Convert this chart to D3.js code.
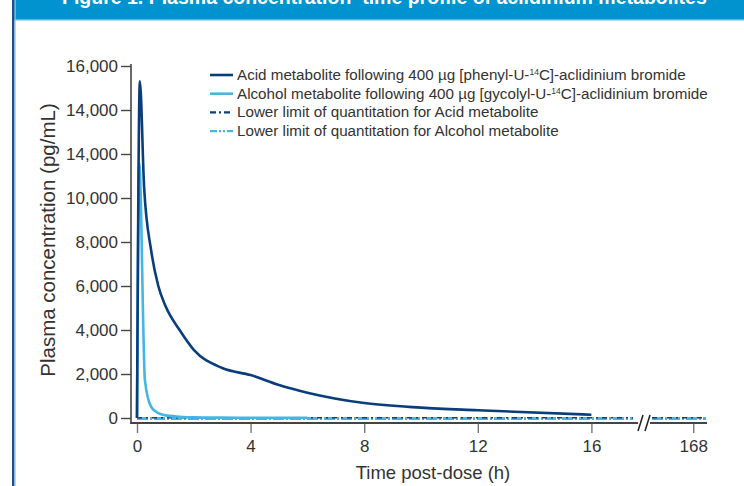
<!DOCTYPE html>
<html>
<head>
<meta charset="utf-8">
<script src="https://cdn.jsdelivr.net/npm/d3@7"></script>
<style>
  body { margin: 0; background: #fff; }
  svg { display: block; font-family: "Liberation Sans", Arial, sans-serif; }
</style>
</head>
<body>
<svg width="744" height="486"></svg>
<script>
// hours post-dose and plasma concentration (pg/mL)
const acidTime = [0, 0.1, 0.25, 0.5, 0.75, 1, 1.5, 2, 3, 4, 5, 6, 8, 10, 12, 16];
const acidConc = [0, 15300, 10500, 7600, 6000, 5100, 4000, 3100, 2270, 1950, 1500, 1150, 680, 470, 350, 150];
const alcTime = [0, 0.08, 0.28, 0.5, 0.75, 1, 1.5, 2, 3, 4, 6];
const alcConc = [0, 11600, 1700, 500, 220, 120, 60, 30, 15, 10, 5];
const lloqAcid = 10;
const lloqAlcohol = 5;
const yTicks = [0, 2000, 4000, 6000, 8000, 10000, 12000, 14000, 16000];
const yTickLabels = ['0', '2,000', '4,000', '6,000', '8,000', '10,000', '14,000', '14,000', '16,000'];
const xTicks = [0, 4, 8, 12, 16, 168];
const legendLabels = [
  ['Acid metabolite following 400 µg [phenyl-U-', '14', 'C]-aclidinium bromide'],
  ['Alcohol metabolite following 400 µg [gycolyl-U-', '14', 'C]-aclidinium bromide'],
  ['Lower limit of quantitation for Acid metabolite'],
  ['Lower limit of quantitation for Alcohol metabolite']
];

const dark = '#0a3d7c';
const light = '#45b5e5';
const axisColor = '#444';

const svg = d3.select('svg');

// header banner + left border
svg.append('rect').attr('x', 13).attr('y', 0).attr('width', 731).attr('height', 19).attr('fill', '#0093d0');
svg.append('rect').attr('x', 13).attr('y', 19).attr('width', 731).attr('height', 1.5).attr('fill', '#5ab8e4');
svg.append('text').attr('x', 62).attr('y', 4)
  .attr('fill', '#fff').attr('font-weight', 'bold').attr('font-size', 19.5)
  .text('Figure 1. Plasma concentration–time profile of aclidinium metabolites');
svg.append('rect').attr('x', 12).attr('y', 0).attr('width', 2.5).attr('height', 486).attr('fill', '#1f4f8a');
svg.append('rect').attr('x', 14.5).attr('y', 0).attr('width', 1.2).attr('height', 486).attr('fill', '#9cc3e6');

// scales (x has a break between 17.5 h and 166.5 h)
const x = d3.scaleLinear()
  .domain([0, 17.5, 166.5, 168.5])
  .range([137, 634, 652, 707]);
const y = d3.scaleLinear().domain([0, 16000]).range([418, 66]);

// y axis
const yAxis = svg.append('g').attr('transform', 'translate(131,0)')
  .call(d3.axisLeft(y).tickValues(yTicks).tickSize(10).tickPadding(3)
    .tickFormat((d, i) => yTickLabels[i]));
yAxis.select('.domain').remove();
yAxis.append('line').attr('x1', 0).attr('x2', 0).attr('y1', 64).attr('y2', 424)
  .attr('stroke', axisColor).attr('stroke-width', 1.6);
yAxis.selectAll('.tick line').attr('stroke', axisColor).attr('stroke-width', 1.4);
yAxis.selectAll('.tick text').attr('fill', '#333').attr('font-size', 17);

// x axis
const xAxis = svg.append('g').attr('transform', 'translate(0,423)')
  .call(d3.axisBottom(x).tickValues(xTicks).tickSize(10).tickPadding(7));
xAxis.select('.domain').remove();
xAxis.selectAll('.tick line').attr('stroke', '#777').attr('stroke-width', 1.4);
xAxis.selectAll('.tick text').attr('fill', '#333').attr('font-size', 17);
xAxis.append('line').attr('x1', 130.2).attr('x2', x(17.5) + 4).attr('y1', 0).attr('y2', 0)
  .attr('stroke', axisColor).attr('stroke-width', 1.8);
xAxis.append('line').attr('x1', x(166.5) - 2).attr('x2', 707).attr('y1', 0).attr('y2', 0)
  .attr('stroke', axisColor).attr('stroke-width', 1.8);
[0, 7].forEach(dx => {
  xAxis.append('line').attr('x1', 638 + dx).attr('x2', 643 + dx).attr('y1', 8).attr('y2', -8)
    .attr('stroke', '#222').attr('stroke-width', 1.6);
});

// axis titles
svg.append('text').attr('transform', 'translate(55,240) rotate(-90)')
  .attr('text-anchor', 'middle').attr('font-size', 20.5).attr('fill', '#333')
  .text('Plasma concentration (pg/mL)');
svg.append('text').attr('x', 433).attr('y', 479)
  .attr('text-anchor', 'middle').attr('font-size', 18.5).attr('fill', '#333')
  .text('Time post-dose (h)');

// LLOQ lines, split at the axis break
const lloqSegments = [[0, 17.5], [166.5, 168.5]];
lloqSegments.forEach(seg => {
  svg.append('line').attr('x1', x(seg[0])).attr('x2', x(seg[1]) - 1)
    .attr('y1', y(lloqAlcohol) + 0.5).attr('y2', y(lloqAlcohol) + 0.5)
    .attr('stroke', light).attr('stroke-width', 3).attr('stroke-dasharray', '11,2,2,2');
  svg.append('line').attr('x1', x(seg[0])).attr('x2', x(seg[1]) - 1)
    .attr('y1', y(lloqAcid)).attr('y2', y(lloqAcid))
    .attr('stroke', dark).attr('stroke-width', 1.6).attr('stroke-dasharray', '5,4,2,4');
});

const line = d3.line().x(d => x(d[0])).y(d => y(d[1])).curve(d3.curveMonotoneX);

svg.append('path').datum(d3.zip(alcTime, alcConc))
  .attr('d', line).attr('fill', 'none').attr('stroke', light).attr('stroke-width', 2.6);
svg.append('path').datum(d3.zip(acidTime, acidConc))
  .attr('d', line).attr('fill', 'none').attr('stroke', dark).attr('stroke-width', 2.6);

// legend
const legend = svg.append('g').attr('transform', 'translate(210,75)');
const legendStyle = [
  {c: dark, w: 2.6, dash: null},
  {c: light, w: 2.6, dash: null},
  {c: dark, w: 2.4, dash: '6,3,2,3'},
  {c: light, w: 2.4, dash: '7,2,2,2,2,2'}
];
legendLabels.forEach((lab, i) => {
  const row = legend.append('g').attr('transform', `translate(0,${i * 18.7})`);
  row.append('line').attr('x1', 0).attr('x2', 23).attr('y1', 0).attr('y2', 0)
    .attr('stroke', legendStyle[i].c).attr('stroke-width', legendStyle[i].w)
    .attr('stroke-dasharray', legendStyle[i].dash);
  const t = row.append('text').attr('x', 27).attr('y', 5)
    .attr('font-size', 15.2).attr('fill', '#333');
  t.append('tspan').text(lab[0]);
  if (lab.length > 1) {
    t.append('tspan').attr('font-size', 8.5).attr('dy', -5).text(lab[1]);
    t.append('tspan').attr('dy', 5).text(lab[2]);
  }
});
</script>
</body>
</html>
